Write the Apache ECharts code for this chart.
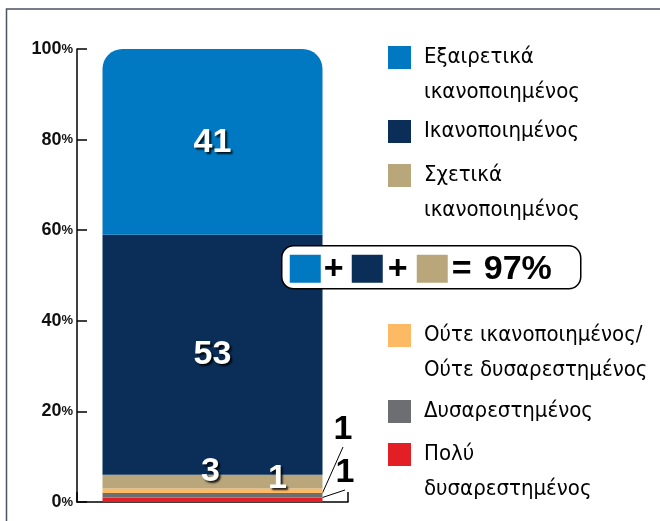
<!DOCTYPE html>
<html>
<head>
<meta charset="utf-8">
<script src="https://cdn.jsdelivr.net/npm/echarts@6/dist/echarts.min.js"></script>
<style>
  html, body { margin: 0; padding: 0; background: #fff; }
  #chart { width: 660px; height: 521px; }
</style>
</head>
<body>
<div id="chart"></div>
<script>
// single stacked bar, bottom to top
const categories = ["Ικανοποίηση"];
const seriesNames = [
  "Πολύ\nδυσαρεστημένος",
  "Δυσαρεστημένος",
  "Ούτε ικανοποιημένος/\nΟύτε δυσαρεστημένος",
  "Σχετικά\nικανοποιημένος",
  "Ικανοποιημένος",
  "Εξαιρετικά\nικανοποιημένος",
];
const seriesValues = [1, 1, 1, 3, 53, 41];
const seriesColors = ["#e31e25", "#6d6e71", "#fdb964", "#b9a77b", "#0a2e57", "#0079c2"];
const yTickValues = [0, 20, 40, 60, 80, 100];
const summaryText = "97%";

const narrowFont = "'Liberation Sans Narrow', 'DejaVu Sans Condensed', 'Roboto Condensed', 'Liberation Sans', sans-serif";
const boldFont = "'Liberation Sans', Arial, sans-serif";

let myChart = echarts.init(document.getElementById("chart"));

// label look per segment
const whiteLabel = {
  show: true,
  color: "#fff",
  fontFamily: boldFont,
  fontWeight: "bold",
  fontSize: 34,
  textShadowColor: "rgba(0,0,0,0.85)",
  textShadowBlur: 2,
  textShadowOffsetX: 2,
  textShadowOffsetY: 2,
};
const blackLabel = {
  show: true,
  color: "#000",
  fontFamily: boldFont,
  fontWeight: "bold",
  fontSize: 34,
};
const labelSettings = [
  { label: Object.assign({}, blackLabel), layout: { x: 345, y: 473, align: "center", verticalAlign: "middle" } },
  { label: Object.assign({}, blackLabel), layout: { x: 343, y: 430, align: "center", verticalAlign: "middle" } },
  { label: Object.assign({ position: "inside", offset: [65, -12] }, whiteLabel) },
  { label: Object.assign({ position: "inside", offset: [-2, -10] }, whiteLabel) },
  { label: Object.assign({ position: "inside", offset: [0, 0] }, whiteLabel) },
  { label: Object.assign({ position: "inside", offset: [0, 1] }, whiteLabel) },
];

let series = [];
for (let i = 0; i < seriesNames.length; i++) {
  let s = {
    name: seriesNames[i],
    type: "bar",
    stack: "total",
    barWidth: 220,
    color: seriesColors[i],
    itemStyle: { color: seriesColors[i] },
    label: labelSettings[i].label,
    data: [seriesValues[i]],
  };
  if (i === seriesNames.length - 1) {
    s.itemStyle.borderRadius = [20, 20, 0, 0];
  }
  if (labelSettings[i].layout) {
    s.labelLayout = labelSettings[i].layout;
    s.labelLine = { show: true, lineStyle: { color: "#000", width: 1 } };
  }
  series.push(s);
}

// legends: one per item so the gaps can follow the picture.
// two-line names get an empty first line so the square sits next to the first line
const legendIconTops = [443, 400, 324, 164, 120, 46];
let legends = [];
for (let i = 0; i < seriesNames.length; i++) {
  let twoLines = seriesNames[i].indexOf("\n") >= 0;
  legends.push({
    data: [seriesNames[i]],
    left: 388,
    top: legendIconTops[i] - (twoLines ? 41 : 6),
    orient: "vertical",
    padding: 0,
    itemWidth: 23,
    itemHeight: 23,
    icon: "rect",
    selectedMode: false,
    formatter: function (name) {
      return name.indexOf("\n") >= 0 ? "\n" + name : name;
    },
    textStyle: {
      color: "#000",
      fontFamily: narrowFont,
      fontSize: 22,
      lineHeight: 35,
      padding: [0, 0, 0, 8],
    },
  });
}

myChart.setOption({
  animation: false,
  grid: {
    left: 77,
    right: 312,
    top: 49,
    bottom: 19,
    outerBoundsMode: "none",
  },
  legend: legends,
  xAxis: {
    type: "category",
    data: categories,
    axisLine: { lineStyle: { color: "#000", width: 1.5 } },
    axisTick: { show: true, inside: true, length: 10, lineStyle: { color: "#000", width: 1.5 } },
    axisLabel: { show: false },
    splitLine: { show: false },
  },
  yAxis: {
    type: "value",
    min: yTickValues[0],
    max: yTickValues[yTickValues.length - 1],
    interval: yTickValues[1] - yTickValues[0],
    axisLine: { show: true, lineStyle: { color: "#000", width: 1.5 } },
    axisTick: { show: true, inside: true, length: 10, lineStyle: { color: "#000", width: 1.5 } },
    splitLine: { show: false },
    axisLabel: {
      margin: 4,
      formatter: function (v) {
        return "{n|" + v + "}{p|%}";
      },
      rich: {
        n: { fontFamily: boldFont, fontWeight: "bold", fontSize: 18, color: "#111" },
        p: { fontFamily: boldFont, fontWeight: "bold", fontSize: 13, color: "#111" },
      },
    },
  },
  graphic: [
    {
      // frame of the figure (left and top edges)
      type: "polyline",
      z: 100,
      shape: { points: [[6.5, 521], [6.5, 9], [660, 9]] },
      style: { stroke: "#4b5262", lineWidth: 1.5, fill: null },
    },
    {
      type: "group",
      left: 281,
      top: 245,
      children: [
        { type: "rect", z: 100, shape: { x: 0, y: 0, width: 299, height: 43, r: 12 }, style: { fill: "#fff", stroke: "#000", lineWidth: 1.5 } },
        { type: "rect", z: 101, shape: { x: 8, y: 9, width: 31, height: 28 }, style: { fill: seriesColors[5] } },
        { type: "text", z: 101, x: 52, y: 24, style: { text: "+", fill: "#000", font: "bold 34px " + boldFont, align: "center", verticalAlign: "middle" } },
        { type: "rect", z: 101, shape: { x: 70, y: 9, width: 31, height: 28 }, style: { fill: seriesColors[4] } },
        { type: "text", z: 101, x: 116, y: 24, style: { text: "+", fill: "#000", font: "bold 34px " + boldFont, align: "center", verticalAlign: "middle" } },
        { type: "rect", z: 101, shape: { x: 135, y: 9, width: 31, height: 28 }, style: { fill: seriesColors[3] } },
        { type: "text", z: 101, x: 180, y: 24, style: { text: "=", fill: "#000", font: "bold 34px " + boldFont, align: "center", verticalAlign: "middle" } },
        { type: "text", z: 101, x: 202, y: 24, style: { text: summaryText, fill: "#000", font: "bold 34px " + boldFont, align: "left", verticalAlign: "middle" } },
      ],
    },
  ],
  series: series,
});
</script>
</body>
</html>
